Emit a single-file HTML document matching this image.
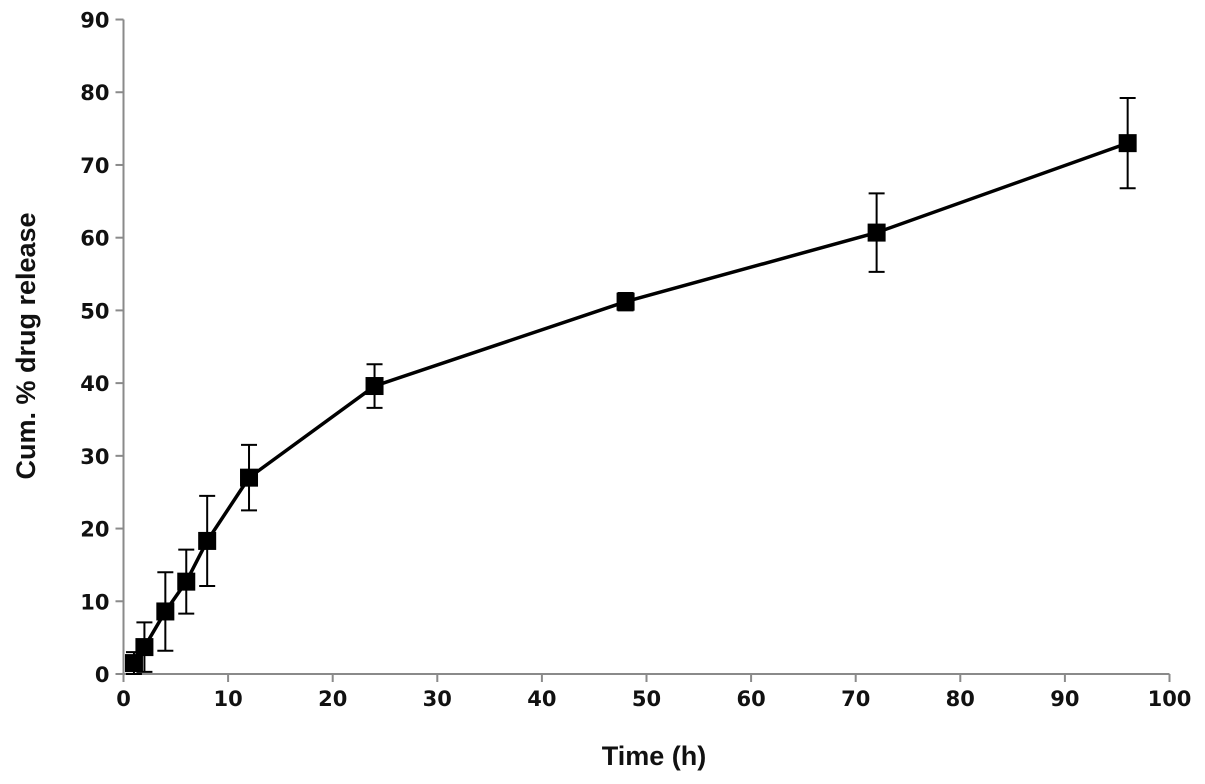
<!DOCTYPE html>
<html><head><meta charset="utf-8"><style>
html,body{margin:0;padding:0;background:#fff;}
svg{display:block;}
.tick{font-family:"DejaVu Sans","Liberation Sans",sans-serif;font-weight:bold;font-size:21px;fill:#111;}
.title{font-family:"Liberation Sans",Arial,sans-serif;font-weight:bold;font-size:27px;fill:#111;}
</style></head><body>
<svg id="chart" width="1205" height="784" viewBox="0 0 1205 784">
<g id="axes"></g>
<g id="marks"></g>
<text class="title" x="654" y="765" text-anchor="middle">Time (h)</text>
<text class="title" transform="translate(35,346) rotate(-90)" text-anchor="middle">Cum. % drug release</text>
</svg>
<script>
const times = [1, 2, 4, 6, 8, 12, 24, 48, 72, 96];
const release = [1.5, 3.7, 8.6, 12.7, 18.3, 27.0, 39.6, 51.2, 60.7, 73.0];
const errors = [1.5, 3.4, 5.4, 4.4, 6.2, 4.5, 3.0, 1.2, 5.4, 6.2];
const xTicks = [0, 10, 20, 30, 40, 50, 60, 70, 80, 90, 100];
const yTicks = [0, 10, 20, 30, 40, 50, 60, 70, 80, 90];

const NS = "http://www.w3.org/2000/svg";
const X0 = 123.5, XS = 10.46, Y0 = 674, YS = 7.272;
function sx(v){ return X0 + v * XS; }
function sy(v){ return Y0 - v * YS; }
function mk(tag, attrs, parent){
  const e = document.createElementNS(NS, tag);
  for (const k in attrs) e.setAttribute(k, attrs[k]);
  parent.appendChild(e);
  return e;
}
const axes = document.getElementById('axes');
const marks = document.getElementById('marks');
const axisCol = "#8a8a8a";

let l = mk('line', {x1: sx(0), y1: sy(0), x2: sx(100), y2: sy(0), stroke: axisCol, 'stroke-width': 2}, axes);


l = mk('line', {x1: sx(0), y1: sy(0), x2: sx(0), y2: sy(90), stroke: axisCol, 'stroke-width': 2}, axes);



xTicks.forEach(v => {
  const t = mk('line', {x1: sx(v), y1: sy(0), x2: sx(v), y2: sy(0) + 8, stroke: axisCol, 'stroke-width': 2}, axes);
  
  
  const tx = mk('text', {x: sx(v), y: sy(0) + 32, 'text-anchor': 'middle', class: 'tick'}, axes);
  tx.textContent = v;
  
  
});
yTicks.forEach(v => {
  const t = mk('line', {x1: sx(0) - 8, y1: sy(v), x2: sx(0), y2: sy(v), stroke: axisCol, 'stroke-width': 2}, axes);
  
  
  const tx = mk('text', {x: sx(0) - 14, y: sy(v) + 8, 'text-anchor': 'end', class: 'tick'}, axes);
  tx.textContent = v;
  
  
});

// error bars
times.forEach((t, i) => {
  const x = sx(t), top = sy(release[i] + errors[i]), bot = sy(Math.max(0, release[i] - errors[i]));
  const g = mk('g', {stroke: '#000', 'stroke-width': 2}, marks);
  
  
  mk('line', {x1: x, y1: top, x2: x, y2: bot}, g);
  mk('line', {x1: x - 8, y1: top, x2: x + 8, y2: top}, g);
  mk('line', {x1: x - 8, y1: bot, x2: x + 8, y2: bot}, g);
});
// line
const pts = times.map((t, i) => sx(t) + ',' + sy(release[i])).join(' ');
const pl = mk('polyline', {points: pts, fill: 'none', stroke: '#000', 'stroke-width': 3.5}, marks);


// markers
times.forEach((t, i) => {
  const r = mk('rect', {x: sx(t) - 9, y: sy(release[i]) - 9, width: 18, height: 18, fill: '#000'}, marks);
  
  
});
</script>
</body></html>
